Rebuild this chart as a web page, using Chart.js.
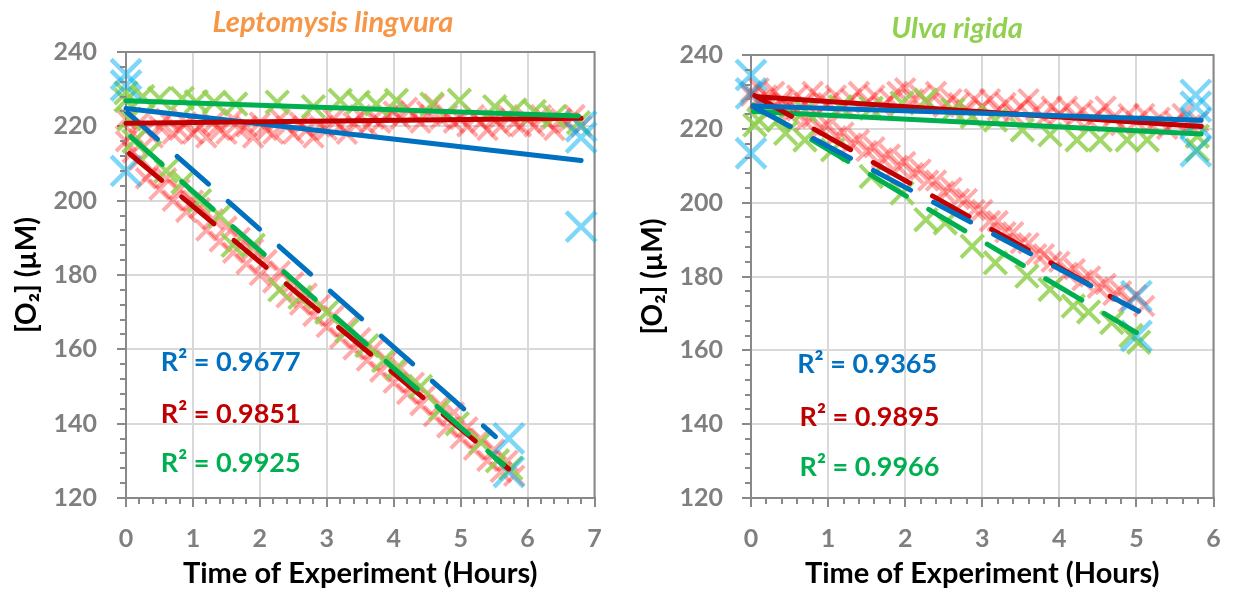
<!DOCTYPE html>
<html>
<head>
<meta charset="utf-8">
<script src="https://cdn.jsdelivr.net/npm/chart.js@4.4.1/dist/chart.umd.min.js"></script>
<style>
  html, body { margin: 0; padding: 0; background: #fff; }
  #wrap { position: relative; width: 1239px; height: 591px; }
  .box { position: absolute; top: 0; height: 591px; }
  #leftBox { left: 0; width: 620px; }
  #rightBox { left: 620px; width: 619px; }
</style>
</head>
<body>
<div id="wrap">
  <div class="box" id="leftBox"><canvas id="leptoChart"></canvas></div>
  <div class="box" id="rightBox"><canvas id="ulvaChart"></canvas></div>
</div>
<script>
// sampling times (hours) for the dense red series
const fineHours = [
  0.0, 0.1, 0.2, 0.3, 0.4, 0.5, 0.6, 0.7, 0.8, 0.9,
  1.0, 1.1, 1.2, 1.3, 1.4, 1.5, 1.6, 1.7, 1.8, 1.9,
  2.0, 2.1, 2.2, 2.3, 2.4, 2.5, 2.6, 2.7, 2.8, 2.9,
  3.0, 3.1, 3.2, 3.3, 3.4, 3.5, 3.6, 3.7, 3.8, 3.9,
  4.0, 4.1, 4.2, 4.3, 4.4, 4.5, 4.6, 4.7, 4.8, 4.9,
  5.0, 5.1, 5.2, 5.3, 5.4, 5.5, 5.6, 5.7, 5.8, 5.9,
  6.0, 6.1, 6.2, 6.3, 6.4, 6.5, 6.6, 6.7, 6.8
];

// ---- Leptomysis lingvura ----
const leptoRedFlat = [
  222, 218, 221, 219, 217, 220, 222, 218, 219, 221,
  218, 220, 217, 221, 219, 218, 222, 219, 220, 217,
  221, 219, 218, 222, 220, 218, 221, 219, 217, 220,
  219, 222, 220, 218, 221, 223, 220, 222, 221, 223,
  224, 222, 225, 223, 221, 224, 226, 222, 223, 221,
  222, 220, 223, 221, 219, 222, 220, 223, 221, 220,
  222, 220, 223, 221, 219, 222, 221, 223, 220
];
const leptoRedDrop = [
  216, 213, 211, 206, 208, 203, 206, 200, 203, 197,
  200, 198, 192, 195, 189, 193, 186, 190, 183, 187,
  180, 184, 178, 181, 174, 178, 172, 175, 169, 172,
  166, 169, 163, 166, 160, 163, 157, 160, 154, 157,
  151, 155, 148, 151, 145, 148, 142, 145, 139, 143,
  136, 139, 133, 136, 130, 133, 127, 130, 126
];
const leptoGreenFlatX = [0, 0.25, 0.5, 0.84, 1.05, 1.32, 1.64, 2.26, 2.8, 3.2, 3.47, 3.74, 4.04, 4.57, 4.98, 5.51, 5.81, 6.1, 6.4, 6.76];
const leptoGreenFlatY = [227, 228, 227.5, 227.5, 226.6, 226.5, 226, 226.5, 225.3, 227, 226.5, 226, 227, 226, 227, 225.3, 224.4, 224, 222.6, 221];
const leptoGreenDropX = [0, 0.05, 0.12, 0.35, 0.6, 0.85, 1.1, 1.4, 1.6, 1.9, 2.3, 2.6, 3.0, 3.3, 3.6, 3.85, 4.05, 4.4, 4.7, 4.95, 5.3, 5.55, 5.75];
const leptoGreenDropY = [229, 222, 216, 213, 208, 205, 200, 196, 188, 188, 176, 174, 170, 165, 161, 157, 155, 150, 144, 140, 135, 130, 128];
const leptoBlueX = [0, 0, 0, 6.8, 6.8, 6.8, 5.72, 5.72];
const leptoBlueY = [234, 231, 208, 220, 217, 193, 136, 127];
// trend line end points [x, y]
const leptoBlueFlatFit = [[0, 224.8], [6.8, 210.8]];
const leptoRedFlatFit = [[0, 220.8], [6.8, 222.2]];
const leptoGreenFlatFit = [[0, 226.9], [6.76, 222.8]];
const leptoBlueDropFit = [[0, 224], [5.52, 136.5]];
const leptoRedDropFit = [[0.05, 212.7], [5.72, 127.8]];
const leptoGreenDropFit = [[0.07, 217.2], [5.64, 128.9]];
const leptoR2 = ["0.9677", "0.9851", "0.9925"];

// ---- Ulva rigida ----
const ulvaRedFlat = [
  229, 231, 227, 230, 228, 226, 229, 227, 230, 228,
  227, 229, 226, 228, 230, 227, 229, 226, 228, 230,
  231, 228, 229, 227, 230, 226, 228, 227, 225, 228,
  226, 228, 225, 227, 224, 226, 228, 225, 223, 226,
  224, 226, 223, 225, 222, 224, 226, 223, 221, 224,
  222, 224, 221, 223, 220, 222, 224, 221, 222
];
const ulvaRedDrop = [
  230, 228, 229, 226, 227, 224, 225, 222, 223, 220,
  221, 218, 219, 216, 217, 214, 215, 212, 213, 210,
  211, 208, 209, 206, 206, 203, 204, 201, 201, 198,
  198, 195, 195, 192, 192, 189, 189, 186, 186, 184,
  184, 181, 182, 179, 180, 177, 178, 175, 176, 173,
  175, 172
];
const ulvaGreenFlatX = [0.05, 0.35, 0.7, 1.16, 1.56, 1.96, 2.27, 2.62, 2.87, 3.17, 3.52, 3.88, 4.23, 4.53, 4.88, 5.14, 5.79, 5.79];
const ulvaGreenFlatY = [221, 222.4, 225, 226, 225.6, 227, 227.8, 225.1, 223.3, 222.4, 219.7, 218.4, 217, 217, 217, 217, 218, 214.3];
const ulvaGreenDropX = [0.1, 0.45, 0.7, 1.06, 1.56, 1.96, 2.27, 2.52, 2.87, 3.17, 3.58, 3.88, 4.18, 4.38, 4.68, 4.93, 5.03];
const ulvaGreenDropY = [222.4, 218.8, 217, 214.3, 207.1, 202.6, 195.4, 194.5, 188.2, 183.7, 180.1, 176.5, 172, 170.4, 167.5, 164, 162.2];
const ulvaBlueX = [0, 0, 0, 5.77, 5.77, 5.77, 5.77, 5.0, 5.0];
const ulvaBlueY = [234.6, 229.6, 213.4, 229.2, 226, 221.5, 213.9, 174.7, 163.9];
const ulvaRedFlatFit = [[0.08, 228.7], [5.84, 220.6]];
const ulvaBlueFlatFit = [[0.03, 226.2], [5.84, 222.3]];
const ulvaGreenFlatFit = [[0.03, 224.7], [5.84, 218.6]];
const ulvaRedDropFit = [[0.05, 229], [4.73, 173.8]];
const ulvaBlueDropFit = [[0.03, 226], [5.03, 170.6]];
const ulvaGreenDropFit = [[0.03, 226.4], [5.0, 164.8]];
const ulvaR2 = ["0.9365", "0.9895", "0.9966"];

const yTicks = [120, 140, 160, 180, 200, 220, 240];

const FONT = "Lato, 'Open Sans', sans-serif";
const AXIS_GREY = "#898989";
const COLORS = {
  blueFit: "#0070C0",
  redFit: "#C00000",
  greenFit: "#00B050",
  blueMark: "rgba(0,176,240,0.5)",
  redMark: "rgba(255,0,0,0.33)",
  greenMark: "rgba(146,208,80,0.85)",
};

function toPoints(xs, ys) {
  return ys.map((y, i) => ({ x: xs[i], y: y }));
}

function markSet(data, color, radius, width, order) {
  return {
    data: data,
    showLine: false,
    pointStyle: "crossRot",
    pointRadius: radius,
    pointBorderWidth: width,
    borderColor: color,
    backgroundColor: color,
    clip: false,
    order: order,
  };
}

function fitSet(ends, color, dashed, order) {
  return {
    data: ends.map((p) => ({ x: p[0], y: p[1] })),
    showLine: true,
    pointRadius: 0,
    borderColor: color,
    borderWidth: 5,
    borderCapStyle: "round",
    borderDash: dashed ? [42, 26] : [],
    clip: false,
    order: order,
  };
}

// minor tick marks + plot frame
const frameAndMinor = {
  id: "frameAndMinor",
  beforeDatasetsDraw(chart) {
    const { ctx, chartArea: a } = chart;
    ctx.save();
    ctx.strokeStyle = AXIS_GREY;
    ctx.lineWidth = 2;
    ctx.strokeRect(a.left, a.top, a.right - a.left, a.bottom - a.top);
    ctx.restore();
  },
  afterDraw(chart) {
    const { ctx, chartArea: a, scales } = chart;
    const x = scales.x, y = scales.y;
    ctx.save();
    ctx.strokeStyle = AXIS_GREY;
    ctx.lineWidth = 2;
    ctx.beginPath();
    for (let v = x.min; v <= x.max + 1e-6; v += 0.2) {
      if (Math.abs(v - Math.round(v)) < 1e-6) continue;
      const px = Math.round(x.getPixelForValue(v));
      ctx.moveTo(px, a.bottom);
      ctx.lineTo(px, a.bottom + 6);
    }
    for (let v = y.min; v <= y.max + 1e-6; v += 4) {
      if (Math.abs(v % 20) < 1e-6) continue;
      const py = Math.round(y.getPixelForValue(v));
      ctx.moveTo(a.left, py);
      ctx.lineTo(a.left - 6, py);
    }
    ctx.stroke();
    ctx.restore();
  },
};

// R² labels and the species title (the title sits off-centre in the original)
const chartTexts = {
  id: "chartTexts",
  afterDatasetsDraw(chart, args, opts) {
    const { ctx, scales } = chart;
    ctx.save();
    ctx.font = "bold 27px " + FONT;
    ctx.textAlign = "left";
    ctx.textBaseline = "middle";
    opts.r2.forEach((it) => {
      ctx.fillStyle = it.color;
      ctx.fillText("R² = " + it.value, scales.x.getPixelForValue(it.x), scales.y.getPixelForValue(it.y));
    });
    ctx.font = "italic bold 29px " + FONT;
    ctx.textAlign = "center";
    ctx.fillStyle = opts.titleColor;
    ctx.fillText(opts.title, opts.titleX, opts.titleY);
    ctx.restore();
  },
};

function buildConfig(opt) {
  return {
    type: "scatter",
    data: { datasets: opt.datasets },
    options: {
      responsive: true,
      maintainAspectRatio: false,
      animation: false,
      layout: { padding: opt.padding },
      plugins: {
        legend: { display: false },
        tooltip: { enabled: false },
        title: { display: false },
        chartTexts: {
          r2: opt.r2,
          title: opt.title,
          titleColor: opt.titleColor,
          titleX: opt.titleX,
          titleY: opt.titleY,
        },
      },
      scales: {
        x: {
          type: "linear",
          min: 0,
          max: opt.xMax,
          afterFit: (s) => { s.height = 93; },
          ticks: {
            stepSize: 1,
            color: "#7F7F7F",
            padding: 17,
            font: { family: FONT, size: 25, weight: "bold" },
          },
          grid: { color: "#D9D9D9", lineWidth: 2, tickLength: 9, tickColor: AXIS_GREY, tickWidth: 2 },
          border: { color: AXIS_GREY, width: 2 },
          title: {
            display: true,
            text: "Time of Experiment (Hours)",
            color: "#000",
            font: { family: FONT, size: 29, weight: "bold" },
            padding: { top: 0, bottom: 0 },
          },
        },
        y: {
          type: "linear",
          min: 120,
          max: 240,
          afterFit: (s) => { s.width = opt.yWidth; },
          afterBuildTicks: (s) => { s.ticks = yTicks.map((v) => ({ value: v })); },
          ticks: {
            color: "#7F7F7F",
            padding: opt.yPad,
            font: { family: FONT, size: 25, weight: "bold" },
          },
          grid: { color: "#D9D9D9", lineWidth: 2, tickLength: 9, tickColor: AXIS_GREY, tickWidth: 2 },
          border: { color: AXIS_GREY, width: 2 },
          title: {
            display: true,
            text: "[O₂] (µM)",
            color: "#000",
            font: { family: FONT, size: 28, weight: "bold" },
            padding: { top: 0, bottom: 0 },
          },
        },
      },
    },
    plugins: [frameAndMinor, chartTexts],
  };
}

document.addEventListener("DOMContentLoaded", () => {
  const leptoSets = [
    fitSet(leptoGreenDropFit, COLORS.greenFit, true, 1),
    fitSet(leptoRedDropFit, COLORS.redFit, true, 2),
    fitSet(leptoBlueDropFit, COLORS.blueFit, true, 3),
    fitSet(leptoGreenFlatFit, COLORS.greenFit, false, 1),
    fitSet(leptoRedFlatFit, COLORS.redFit, false, 2),
    fitSet(leptoBlueFlatFit, COLORS.blueFit, false, 3),
    markSet(toPoints(leptoBlueX, leptoBlueY), COLORS.blueMark, 21, 4.5, 4),
    markSet(toPoints(leptoGreenFlatX, leptoGreenFlatY), COLORS.greenMark, 16, 4, 5),
    markSet(toPoints(leptoGreenDropX, leptoGreenDropY), COLORS.greenMark, 16, 4, 5),
    markSet(toPoints(fineHours, leptoRedFlat), COLORS.redMark, 14, 4, 6),
    markSet(toPoints(fineHours, leptoRedDrop), COLORS.redMark, 14, 4, 6),
  ];
  new Chart(document.getElementById("leptoChart"), buildConfig({
    datasets: leptoSets,
    title: "Leptomysis lingvura",
    titleColor: "#F79646",
    titleX: 333,
    titleY: 23,
    padding: { left: 10, right: 24, top: 52, bottom: 0 },
    yWidth: 116,
    yPad: 20,
    xMax: 7,
    r2: [
      { value: leptoR2[0], color: COLORS.blueFit, x: 0.52, y: 156.5 },
      { value: leptoR2[1], color: COLORS.redFit, x: 0.52, y: 142.6 },
      { value: leptoR2[2], color: COLORS.greenFit, x: 0.52, y: 129.4 },
    ],
  }));

  const ulvaSets = [
    fitSet(ulvaGreenDropFit, COLORS.greenFit, true, 3),
    fitSet(ulvaRedDropFit, COLORS.redFit, true, 2),
    fitSet(ulvaBlueDropFit, COLORS.blueFit, true, 1),
    fitSet(ulvaGreenFlatFit, COLORS.greenFit, false, 3),
    fitSet(ulvaRedFlatFit, COLORS.redFit, false, 2),
    fitSet(ulvaBlueFlatFit, COLORS.blueFit, false, 1),
    markSet(toPoints(ulvaBlueX, ulvaBlueY), COLORS.blueMark, 21, 4.5, 4),
    markSet(toPoints(ulvaGreenFlatX, ulvaGreenFlatY), COLORS.greenMark, 16, 4, 5),
    markSet(toPoints(ulvaGreenDropX, ulvaGreenDropY), COLORS.greenMark, 16, 4, 5),
    markSet(toPoints(fineHours, ulvaRedFlat), COLORS.redMark, 14, 4, 6),
    markSet(toPoints(fineHours, ulvaRedDrop), COLORS.redMark, 14, 4, 6),
  ];
  new Chart(document.getElementById("ulvaChart"), buildConfig({
    datasets: ulvaSets,
    title: "Ulva rigida",
    titleColor: "#92D050",
    titleX: 337,
    titleY: 29,
    padding: { left: 16, right: 15, top: 55, bottom: 0 },
    yWidth: 115,
    yPad: 19,
    xMax: 6,
    r2: [
      { value: ulvaR2[0], color: COLORS.blueFit, x: 0.6, y: 156.2 },
      { value: ulvaR2[1], color: COLORS.redFit, x: 0.63, y: 141.9 },
      { value: ulvaR2[2], color: COLORS.greenFit, x: 0.63, y: 128.4 },
    ],
  }));
});
</script>
</body>
</html>
